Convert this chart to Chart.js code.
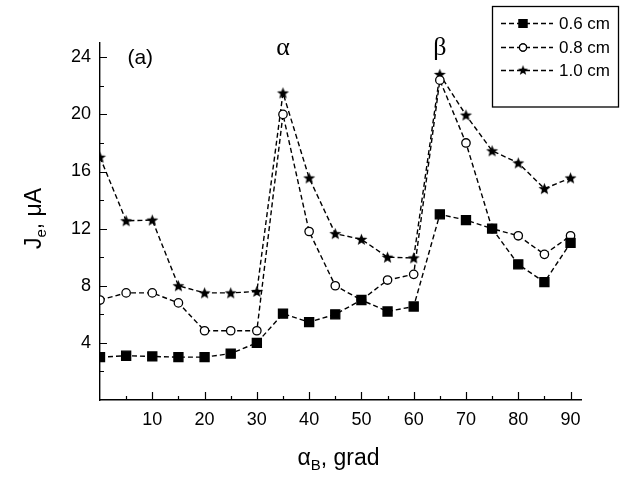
<!DOCTYPE html>
<html>
<head>
<meta charset="utf-8">
<script src="https://cdn.jsdelivr.net/npm/chart.js@4.4.0/dist/chart.umd.min.js"></script>
<style>
  html, body { margin: 0; padding: 0; background: #fff; }
</style>
</head>
<body>
<canvas id="myChart" width="623" height="481"></canvas>
<script>
const angles = [0, 5, 10, 15, 20, 25, 30, 35, 40, 45, 50, 55, 60, 65, 70, 75, 80, 85, 90];
const j06 = [3.0, 3.1, 3.05, 3.0, 3.0, 3.25, 4.0, 6.05, 5.45, 6.0, 7.0, 6.2, 6.55, 13.0, 12.6, 12.0, 9.5, 8.25, 11.0];
const j08 = [7.0, 7.5, 7.5, 6.8, 4.85, 4.85, 4.85, 20.0, 11.8, 8.0, 7.0, 8.4, 8.8, 22.4, 18.0, 12.0, 11.5, 10.2, 11.5];
const j10 = [17.0, 12.55, 12.6, 8.0, 7.5, 7.5, 7.6, 21.5, 15.55, 11.65, 11.25, 10.0, 9.95, 22.8, 19.95, 17.45, 16.6, 14.8, 15.55];
const seriesNames = ['0.6 cm', '0.8 cm', '1.0 cm'];
const xLabelTicks = [10, 20, 30, 40, 50, 60, 70, 80, 90];
const yLabelTicks = [4, 8, 12, 16, 20, 24];

const fontSans = '"Liberation Sans", Arial, sans-serif';
const fontSerif = '"Liberation Serif", "Times New Roman", serif';
Chart.defaults.font.family = fontSans;
Chart.defaults.color = '#000';

let makeStar = (r) => {
  const c = document.createElement('canvas');
  const s = Math.ceil(r * 2 + 2);
  c.width = s; c.height = s;
  const ctx = c.getContext('2d');
  ctx.beginPath();
  for (let i = 0; i < 10; i++) {
    const rad = i % 2 === 0 ? r : r * 0.42;
    const a = -Math.PI / 2 + i * Math.PI / 5;
    const px = s / 2 + rad * Math.cos(a);
    const py = s / 2 + 0.5 + rad * Math.sin(a);
    i === 0 ? ctx.moveTo(px, py) : ctx.lineTo(px, py);
  }
  ctx.closePath();
  ctx.fillStyle = '#000';
  ctx.fill();
  return c;
};
const starImg = makeStar(6.3);

let toPoints = (ys) => angles.map((a, i) => ({ x: a, y: ys[i] }));

let lineSet = (label, ys, style, radius, fill) => ({
  label: label,
  data: toPoints(ys),
  borderColor: '#000',
  borderWidth: 1.4,
  borderDash: [5, 3],
  tension: 0,
  pointStyle: style,
  pointRadius: radius,
  pointBackgroundColor: fill,
  pointBorderColor: '#000',
  pointBorderWidth: 1.3,
});

// ticks pointing into the plot, long ones where a label sits
const inwardTicks = {
  id: 'inwardTicks',
  afterDraw(chart) {
    const ctx = chart.ctx;
    const xs = chart.scales.x, ys = chart.scales.y;
    const area = chart.chartArea;
    ctx.save();
    ctx.strokeStyle = '#000';
    ctx.lineWidth = 1.2;
    ctx.beginPath();
    xs.ticks.forEach(t => {
      if (t.value === 0) return;
      const px = Math.round(xs.getPixelForValue(t.value)) + 0.5;
      const len = xLabelTicks.includes(t.value) ? 8 : 4;
      ctx.moveTo(px, area.bottom);
      ctx.lineTo(px, area.bottom - len);
    });
    ys.ticks.forEach(t => {
      if (t.value === 0) return;
      const py = Math.round(ys.getPixelForValue(t.value)) + 0.5;
      const len = yLabelTicks.includes(t.value) ? 7 : 4;
      ctx.moveTo(area.left, py);
      ctx.lineTo(area.left + len, py);
    });
    ctx.stroke();
    ctx.restore();
  }
};

let drawSubText = (ctx, parts, cx, baseY) => {
  let total = 0;
  parts.forEach(p => { ctx.font = p.font; total += ctx.measureText(p.text).width; });
  let x = cx - total / 2;
  parts.forEach(p => {
    ctx.font = p.font;
    ctx.fillText(p.text, x, baseY + (p.dy || 0));
    x += ctx.measureText(p.text).width;
  });
};

const textLayer = {
  id: 'textLayer',
  afterDraw(chart) {
    const ctx = chart.ctx;
    const xs = chart.scales.x, ys = chart.scales.y;
    const area = chart.chartArea;
    ctx.save();
    ctx.fillStyle = '#000';
    ctx.textBaseline = 'alphabetic';

    // axis titles
    drawSubText(ctx, [
      { text: 'α', font: `23px ${fontSans}` },
      { text: 'B', font: `15px ${fontSans}`, dy: 5 },
      { text: ', grad', font: `23px ${fontSans}` },
    ], (area.left + area.right) / 2 - 2, 465);

    ctx.save();
    ctx.translate(41, (area.top + area.bottom) / 2 - 3);
    ctx.rotate(-Math.PI / 2);
    drawSubText(ctx, [
      { text: 'J', font: `23px ${fontSans}` },
      { text: 'e', font: `15px ${fontSans}`, dy: 5 },
      { text: ', μA', font: `23px ${fontSans}` },
    ], 0, 0);
    ctx.restore();

    // panel mark and peak labels
    ctx.textAlign = 'center';
    ctx.font = `21px ${fontSans}`;
    ctx.fillText('(a)', xs.getPixelForValue(7.7), ys.getPixelForValue(23.5));
    ctx.font = `26px ${fontSerif}`;
    ctx.fillText('α', xs.getPixelForValue(35), ys.getPixelForValue(24.15));
    ctx.fillText('β', xs.getPixelForValue(65), ys.getPixelForValue(24.15));
    ctx.restore();
  }
};

const legendBox = {
  id: 'legendBox',
  afterDraw(chart) {
    const ctx = chart.ctx;
    const rows = [23, 47, 70];
    ctx.save();
    ctx.strokeStyle = '#000';
    ctx.lineWidth = 1.3;
    ctx.strokeRect(492.5, 6.5, 126, 100.5);
    chart.data.datasets.forEach((ds, i) => {
      const y = rows[i];
      ctx.save();
      ctx.setLineDash([5, 3]);
      ctx.lineWidth = 1.4;
      ctx.beginPath();
      ctx.moveTo(501, y + 0.5);
      ctx.lineTo(553, y + 0.5);
      ctx.stroke();
      ctx.restore();
      if (ds.pointStyle instanceof HTMLCanvasElement) {
        const w = ds.pointStyle.width * 0.85;
        ctx.drawImage(ds.pointStyle, 523 - w / 2, y - w / 2, w, w);
      } else {
        ctx.fillStyle = ds.pointBackgroundColor;
        Chart.helpers.drawPoint(ctx, {
          pointStyle: ds.pointStyle,
          radius: ds.pointRadius * 0.85,
          rotation: 0,
          borderWidth: 1.2,
        }, 523, y + 0.5);
        ctx.fill();
        ctx.stroke();
      }
      ctx.fillStyle = '#000';
      ctx.font = `17px ${fontSans}`;
      ctx.textBaseline = 'middle';
      ctx.textAlign = 'left';
      ctx.fillText(ds.label, 559, y + 1);
    });
    ctx.restore();
  }
};

const config = {
  type: 'line',
  data: {
    datasets: [
      lineSet(seriesNames[0], j06, 'rect', 6.4, '#000'),
      lineSet(seriesNames[1], j08, 'circle', 4.2, '#fff'),
      lineSet(seriesNames[2], j10, starImg, 6, '#000'),
    ],
  },
  options: {
    responsive: false,
    animation: false,
    devicePixelRatio: 1,
    layout: { padding: { top: 43, right: 42, left: 0, bottom: 0 } },
    plugins: { legend: { display: false }, tooltip: { enabled: false } },
    scales: {
      x: {
        type: 'linear',
        min: 0,
        max: 92,
        grid: { display: false, drawTicks: false, tickLength: 0 },
        border: { display: true, color: '#000', width: 1.4 },
        ticks: {
          stepSize: 5,
          includeBounds: false,
          autoSkip: false,
          maxRotation: 0,
          padding: 9,
          font: { size: 18 },
          callback: (v) => xLabelTicks.includes(v) ? v : '',
        },
        afterFit: (scale) => { scale.height = 81; },
      },
      y: {
        type: 'linear',
        min: 0,
        max: 25,
        grid: { display: false, drawTicks: false, tickLength: 0 },
        border: { display: true, color: '#000', width: 1.4 },
        ticks: {
          stepSize: 2,
          includeBounds: false,
          autoSkip: false,
          padding: 9,
          font: { size: 18 },
          callback: (v) => yLabelTicks.includes(v) ? v : '',
        },
        afterFit: (scale) => { scale.width = 100; },
      },
    },
  },
  plugins: [inwardTicks, textLayer, legendBox],
};

window.myNewChart = new Chart(document.getElementById('myChart'), config);
</script>
</body>
</html>
